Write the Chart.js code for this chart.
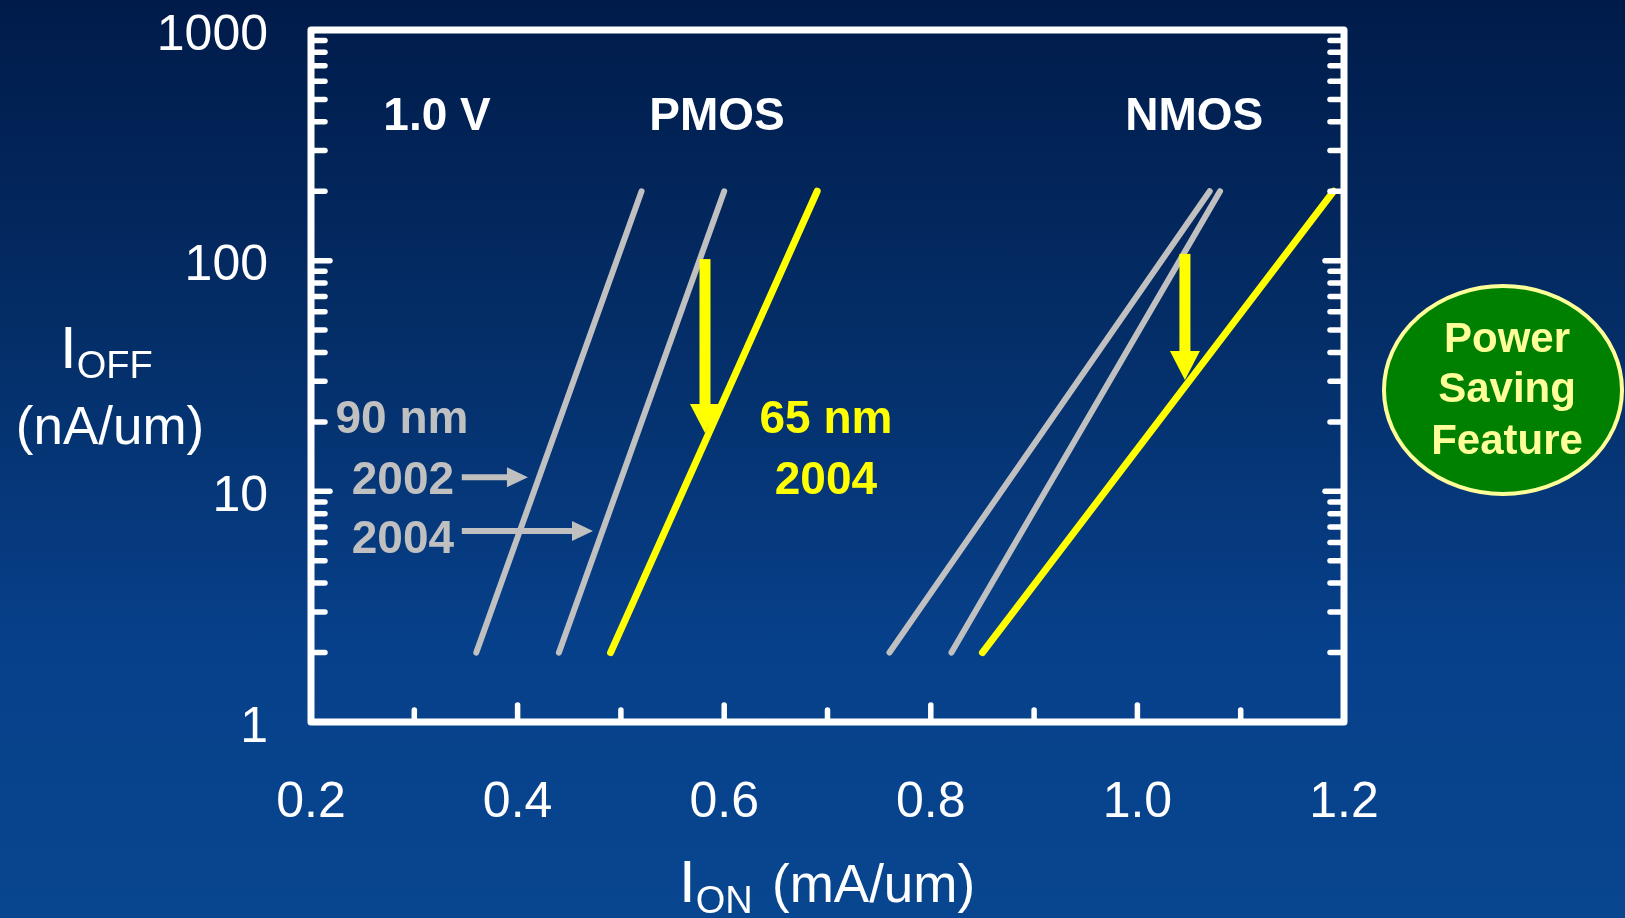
<!DOCTYPE html>
<html lang="en">
<head>
<meta charset="UTF-8">
<title>IOFF vs ION</title>
<script src="https://cdn.jsdelivr.net/npm/chart.js@4"></script>
<style>
  html, body { margin: 0; padding: 0; }
  body {
    width: 1625px; height: 918px; overflow: hidden;
    background: linear-gradient(to bottom, #001b4a 0%, #042d66 35%, #07408a 70%, #08468f 100%);
  }
  canvas { display: block; }
</style>
</head>
<body>
<canvas id="chart" width="1625" height="918"></canvas>
<script>
// I_OFF (nA/um) at the two ends of every line
const ioffEnds = [2, 200];
// I_ON (mA/um) at those two ends
const pmos90nm2002 = [0.36, 0.52];
const pmos90nm2004 = [0.44, 0.60];
const pmos65nm2004 = [0.49, 0.69];
const nmos90nm2002 = [0.76, 1.07];
const nmos90nm2004 = [0.82, 1.08];
const nmos65nm2004 = [0.85, 1.19];

const xTicks = [0.2, 0.4, 0.6, 0.8, 1.0, 1.2];
const yTicks = [1, 10, 100, 1000];

const GRAY = '#c0c0c0';
const YELLOW = '#ffff00';
const FONT = '"Liberation Sans", Arial, sans-serif';

// labels inside the plot, placed in data units
const notes = [
  { text: '1.0 V', x: 0.322, y: 433, color: '#ffffff' },
  { text: 'PMOS', x: 0.593, y: 433, color: '#ffffff' },
  { text: 'NMOS', x: 1.055, y: 433, color: '#ffffff' },
  { text: '90 nm', x: 0.288, y: 21.2, color: GRAY },
  { text: '2002', x: 0.289, y: 11.5, color: GRAY },
  { text: '2004', x: 0.289, y: 6.37, color: GRAY },
  { text: '65 nm', x: 0.6985, y: 21.2, color: YELLOW },
  { text: '2004', x: 0.6985, y: 11.5, color: YELLOW }
];
const grayArrows = [
  { x0: 0.346, x1: 0.410, y: 11.5 },
  { x0: 0.346, x1: 0.473, y: 6.73 }
];
const downArrows = [
  { x: 0.5814, y0: 101.6, y1: 17.9 },
  { x: 1.046, y0: 107, y1: 30.4 }
];

function pts(ion) {
  return ion.map((x, i) => ({ x: x, y: ioffEnds[i] }));
}
function line(ion, color, width) {
  return {
    data: pts(ion), borderColor: color, borderWidth: width,
    borderCapStyle: 'round', pointRadius: 0, tension: 0, fill: false
  };
}

const decor = {
  id: 'decor',
  afterDatasetsDraw(chart) {
    const ctx = chart.ctx, xs = chart.scales.x, ys = chart.scales.y;
    ctx.save();
    // gray pointer arrows
    ctx.fillStyle = GRAY; ctx.strokeStyle = GRAY;
    grayArrows.forEach(a => {
      const x0 = xs.getPixelForValue(a.x0), x1 = xs.getPixelForValue(a.x1);
      const y = ys.getPixelForValue(a.y);
      ctx.lineWidth = 6; ctx.lineCap = 'butt';
      ctx.beginPath(); ctx.moveTo(x0, y); ctx.lineTo(x1 - 18, y); ctx.stroke();
      ctx.beginPath(); ctx.moveTo(x1, y); ctx.lineTo(x1 - 21, y - 10); ctx.lineTo(x1 - 21, y + 10);
      ctx.closePath(); ctx.fill();
    });
    // yellow down arrows
    ctx.fillStyle = YELLOW;
    downArrows.forEach(a => {
      const x = xs.getPixelForValue(a.x);
      const y0 = ys.getPixelForValue(a.y0), y1 = ys.getPixelForValue(a.y1);
      ctx.fillRect(x - 5.5, y0, 11, y1 - y0 - 28);
      ctx.beginPath(); ctx.moveTo(x - 15, y1 - 29); ctx.lineTo(x + 15, y1 - 29); ctx.lineTo(x, y1);
      ctx.closePath(); ctx.fill();
    });
    // text notes
    ctx.font = 'bold 46px ' + FONT;
    ctx.textAlign = 'center'; ctx.textBaseline = 'alphabetic';
    notes.forEach(n => {
      ctx.fillStyle = n.color;
      ctx.fillText(n.text, xs.getPixelForValue(n.x), ys.getPixelForValue(n.y) + 16.5);
    });
    ctx.restore();
  },
  afterDraw(chart) {
    const ctx = chart.ctx, a = chart.chartArea, xs = chart.scales.x, ys = chart.scales.y;
    ctx.save();
    ctx.strokeStyle = '#ffffff'; ctx.fillStyle = '#ffffff';
    // inward ticks
    ctx.lineWidth = 5.5; ctx.lineCap = 'round';
    for (let d = 1; d <= 100; d *= 10) {
      for (let m = 1; m <= 9; m++) {
        const v = d * m;
        if (v === 1) continue;
        const y = ys.getPixelForValue(v);
        const len = m === 1 ? 19 : 14;
        ctx.beginPath(); ctx.moveTo(a.left, y); ctx.lineTo(a.left + len, y); ctx.stroke();
        ctx.beginPath(); ctx.moveTo(a.right, y); ctx.lineTo(a.right - len, y); ctx.stroke();
      }
    }
    for (let i = 3; i <= 11; i++) {
      const x = xs.getPixelForValue(i / 10);
      const len = i % 2 === 0 ? 17 : 12;
      ctx.beginPath(); ctx.moveTo(x, a.bottom); ctx.lineTo(x, a.bottom - len); ctx.stroke();
    }
    // frame
    ctx.lineWidth = 7; ctx.lineJoin = 'round';
    ctx.strokeRect(a.left, a.top, a.right - a.left, a.bottom - a.top);

    // axis titles
    ctx.textAlign = 'left'; ctx.textBaseline = 'alphabetic';
    ctx.font = '60px ' + FONT; ctx.fillText('I', 60, 368);
    let w = ctx.measureText('I').width;
    ctx.font = '38px ' + FONT; ctx.fillText('OFF', 60 + w, 378);
    ctx.textAlign = 'center';
    ctx.font = '53px ' + FONT; ctx.fillText('(nA/um)', 110, 444);

    ctx.textAlign = 'left';
    ctx.font = '60px ' + FONT; ctx.fillText('I', 679, 902);
    w = ctx.measureText('I').width;
    ctx.font = '38px ' + FONT; ctx.fillText('ON', 679 + w, 913);
    ctx.font = '53px ' + FONT; ctx.fillText('(mA/um)', 772, 902);

    // power saving badge
    ctx.beginPath(); ctx.ellipse(1503, 390, 119, 104, 0, 0, Math.PI * 2);
    ctx.fillStyle = '#008000'; ctx.fill();
    ctx.lineWidth = 4; ctx.strokeStyle = '#ffff99'; ctx.stroke();
    ctx.fillStyle = '#ffff99'; ctx.textAlign = 'center';
    ctx.font = 'bold 42px ' + FONT;
    ctx.fillText('Power', 1507, 352);
    ctx.fillText('Saving', 1507, 402);
    ctx.fillText('Feature', 1507, 454);
    ctx.restore();
  }
};

Chart.defaults.font.family = FONT;

new Chart(document.getElementById('chart'), {
  type: 'line',
  data: {
    datasets: [
      line(pmos90nm2002, GRAY, 6),
      line(pmos90nm2004, GRAY, 6),
      line(pmos65nm2004, YELLOW, 7),
      line(nmos90nm2002, GRAY, 6),
      line(nmos90nm2004, GRAY, 6),
      line(nmos65nm2004, YELLOW, 7)
    ]
  },
  options: {
    responsive: false,
    animation: false,
    layout: { padding: { top: 30, right: 281, left: 0, bottom: 0 } },
    plugins: { legend: { display: false }, tooltip: { enabled: false } },
    scales: {
      x: {
        type: 'linear', min: 0.2, max: 1.2,
        afterFit: s => { s.height = 196; s.paddingLeft = 0; s.paddingRight = 0; },
        afterBuildTicks: s => { s.ticks = xTicks.map(v => ({ value: v })); },
        grid: { display: false, drawTicks: false },
        border: { display: false },
        ticks: {
          color: '#ffffff', font: { size: 50, lineHeight: 1 }, padding: 56,
          maxRotation: 0, autoSkip: false,
          callback: v => Number(v).toFixed(1)
        }
      },
      y: {
        type: 'logarithmic', min: 1, max: 1000,
        afterFit: s => { s.width = 311; s.paddingTop = 0; s.paddingBottom = 0; },
        afterBuildTicks: s => { s.ticks = yTicks.map(v => ({ value: v })); },
        grid: { display: false, drawTicks: false },
        border: { display: false },
        ticks: {
          color: '#ffffff', font: { size: 50, lineHeight: 1 }, padding: 43,
          labelOffset: 6, autoSkip: false,
          callback: v => String(v)
        }
      }
    }
  },
  plugins: [decor]
});
</script>
</body>
</html>
